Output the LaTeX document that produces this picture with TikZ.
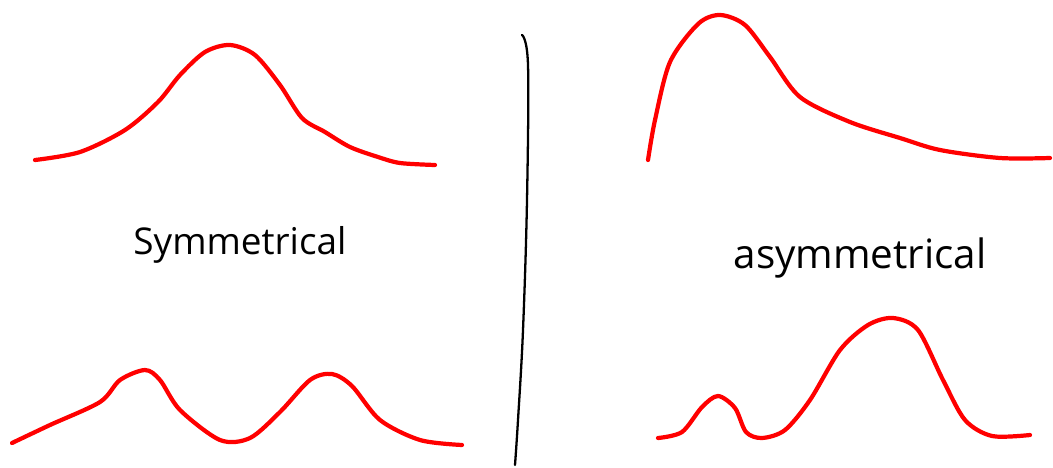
\documentclass[tikz,border=0pt]{standalone}
\usepackage{fontspec}
\setmainfont{Open Sans}
\tikzset{
  curve/.style={red, line width=2.4pt, line cap=round, line join=round},
  divider/.style={black, line width=1.3pt, line cap=round},
  label/.style={inner sep=0pt}
}
\begin{document}
\begin{tikzpicture}[x=0.02cm, y=-0.02cm]
  \useasboundingbox (0,0) rectangle (1053,467);

  % symmetrical, one peak
  \draw[curve] plot[smooth, tension=0.5] coordinates {(35,160) (80,152) (125,130) (158,102) (180,75) (205,52) (230,45) (255,55) (280,85) (302,118) (325,132) (350,147) (378,157) (400,163) (435,165)};
  % symmetrical, two peaks
  \draw[curve] plot[smooth, tension=0.5] coordinates {(12,443) (50,425) (100,402) (120,380) (145,370) (160,380) (180,410) (220,440) (250,438) (280,412) (310,380) (332,374) (352,386) (380,420) (420,440) (462,445)};

  % divider
  \draw[divider] plot[smooth, tension=0.6] coordinates {(522,35) (528,65) (527,200) (523,330) (518,420) (515,465)};

  % asymmetrical, skewed
  \draw[curve] plot[smooth, tension=0.5] coordinates {(648,160) (655,120) (670,62) (698,24) (720,15) (745,25) (770,57) (800,97) (850,122) (900,138) (940,150) (1000,158) (1050,158)};
  % asymmetrical, two unequal peaks
  \draw[curve] plot[smooth, tension=0.5] coordinates {(658,438) (682,432) (702,407) (718,396) (735,408) (746,432) (762,438) (785,430) (810,400) (840,350) (868,325) (893,318) (918,330) (943,380) (965,420) (992,436) (1030,435)};

  \node[label, font=\fontsize{21}{25}\selectfont] (sym) at (240,245) {Symmetrical};
  \node[label, font=\fontsize{23}{27}\selectfont] (asym) at (860,258) {asymmetrical};
\end{tikzpicture}
\end{document}
